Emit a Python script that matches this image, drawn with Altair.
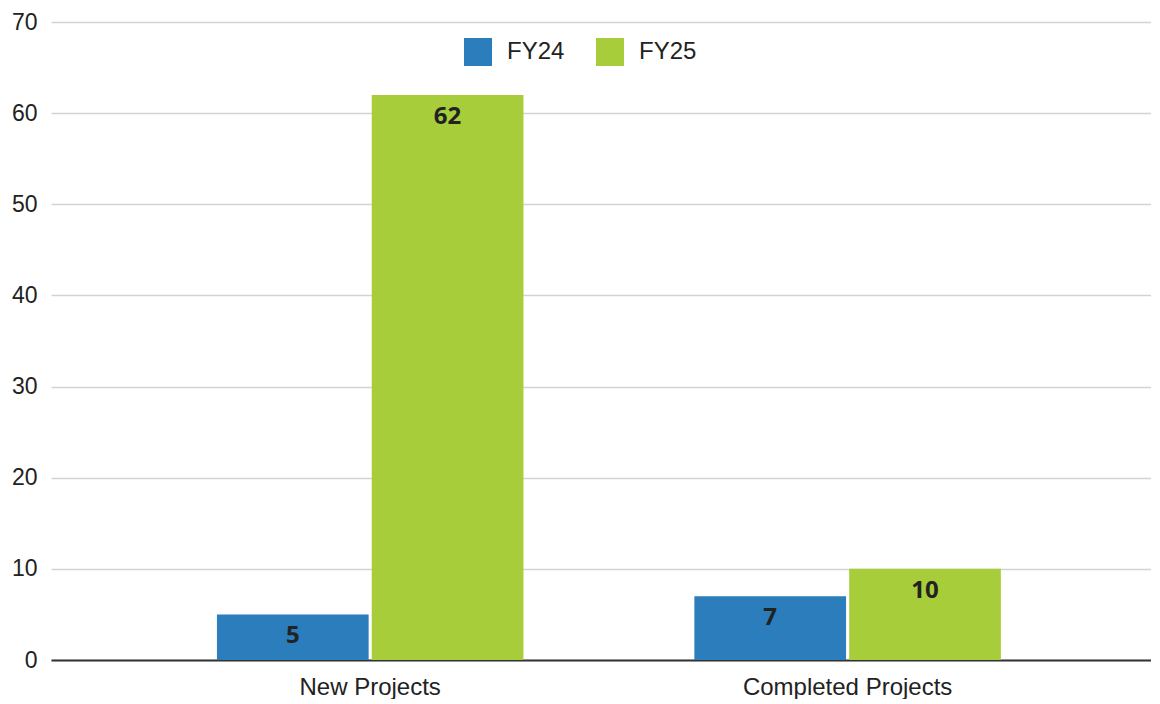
import altair as alt
import pandas as pd

categories = ["New Projects", "Completed Projects"]
series = ["FY24", "FY25"]
fy24_values = [5, 7]
fy25_values = [62, 10]
colors = ["#2B7DBB", "#A7CE3A"]

rows = []
for i, c in enumerate(categories):
    rows.append({"category": c, "year": "FY24", "value": fy24_values[i]})
    rows.append({"category": c, "year": "FY25", "value": fy25_values[i]})
df = pd.DataFrame(rows)

font = "Liberation Sans"

x_enc = alt.X(
    "category:N",
    sort=categories,
    title=None,
    scale=alt.Scale(paddingInner=0.358, paddingOuter=0.331, align=0.525),
    axis=alt.Axis(
        labelAngle=0, labelFontSize=24, labelFont=font, labelColor="#222222",
        ticks=False, labelPadding=15, domainColor="#333333", domainWidth=2,
        grid=False, labelLimit=500,
    ),
)
xoff = alt.XOffset("year:N", sort=series, scale=alt.Scale(paddingInner=0.02, paddingOuter=0))
y_enc = alt.Y(
    "value:Q",
    title=None,
    scale=alt.Scale(domain=[0, 70], nice=False),
    axis=alt.Axis(
        values=[0, 10, 20, 30, 40, 50, 60, 70], labelFontSize=23, labelFont=font,
        labelColor="#222222", ticks=False, domain=False, labelPadding=14,
        gridColor="#d3d3d3", gridWidth=1.5,
    ),
)

bars = alt.Chart(df).mark_bar().encode(
    x=x_enc,
    xOffset=xoff,
    y=y_enc,
    color=alt.Color(
        "year:N",
        sort=series,
        scale=alt.Scale(domain=series, range=colors),
        legend=alt.Legend(
            title=None, orient="none", legendX=413, legendY=16, direction="horizontal",
            symbolType="square", symbolSize=784, symbolStrokeWidth=0, symbolOpacity=1,
            labelFontSize=24, labelFont=font, labelColor="#222222", labelOffset=15,
            columnPadding=31, padding=0,
        ),
    ),
)

labels = alt.Chart(df).mark_text(
    baseline="top", dy=10, fontSize=24, fontWeight="bold", font="Open Sans", color="#222222"
).encode(
    x=alt.X("category:N", sort=categories),
    xOffset=xoff,
    y=alt.Y("value:Q"),
    text=alt.Text("value:Q"),
)

chart = (
    alt.layer(bars, labels)
    .properties(width=1100, height=638, padding={"left": 3, "top": 3, "right": 0, "bottom": 0})
    .configure_view(stroke=None)
)

chart.save("out.html", embed_options={"renderer": "svg", "actions": False})
